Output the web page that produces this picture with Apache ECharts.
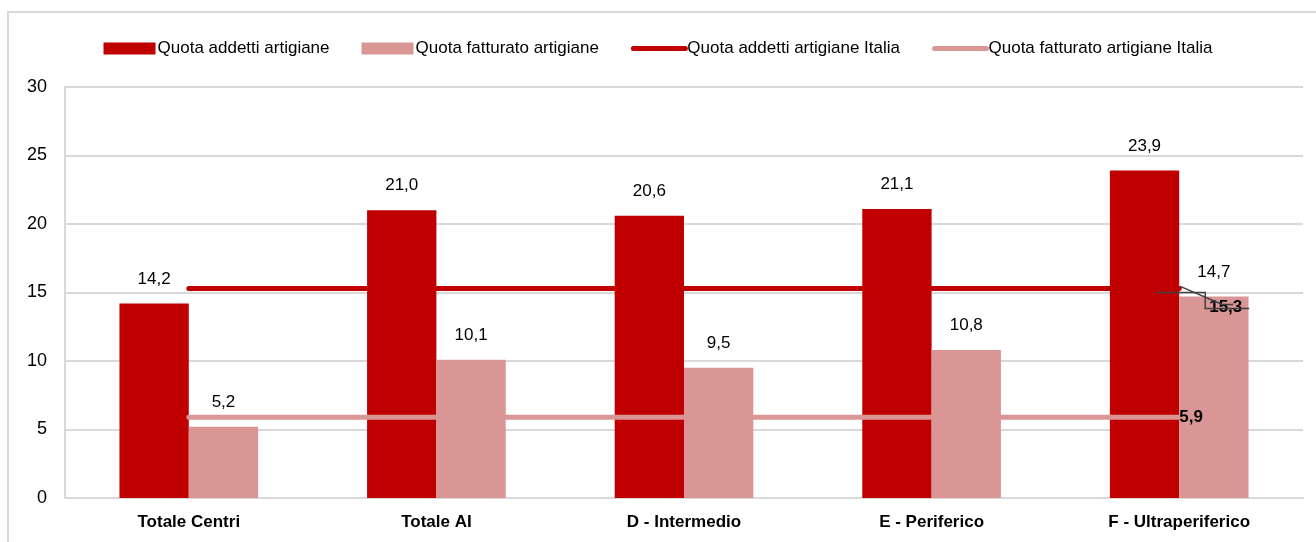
<!DOCTYPE html>
<html>
<head>
<meta charset="utf-8">
<script src="https://cdn.jsdelivr.net/npm/echarts@6/dist/echarts.min.js"></script>
<style>
  html, body { margin: 0; padding: 0; background: #fff; }
  #quote { width: 1316px; height: 542px; }
</style>
</head>
<body>
<div id="quote"></div>
<script>
  // categorie e valori
  let categorie = ["Totale Centri", "Totale AI", "D - Intermedio", "E - Periferico", "F - Ultraperiferico"];
  let addetti = [14.2, 21.0, 20.6, 21.1, 23.9];
  let fatturato = [5.2, 10.1, 9.5, 10.8, 14.7];
  let addettiItalia = [15.3, 15.3, 15.3, 15.3, 15.3];
  let fatturatoItalia = [5.9, 5.9, 5.9, 5.9, 5.9];
  let yTicks = [0, 5, 10, 15, 20, 25, 30];

  let font = "'Liberation Sans Narrow', 'Arial Narrow', 'Liberation Sans', Arial, sans-serif";
  let rosso = '#C00000';
  let rosa = '#DA9694';

  function virgola(v) {
    return v.toFixed(1).replace('.', ',');
  }

  let chart = echarts.init(document.getElementById('quote'));
  let lastIdx = categorie.length - 1;

  let barLabel = {
    show: true, position: 'top', distance: 16,
    fontFamily: font, fontSize: 17, color: '#000',
    formatter: p => virgola(p.value)
  };

  chart.setOption({
    animation: false,
    textStyle: { fontFamily: font, color: '#000' },
    legend: {
      top: 35,
      left: 'center',
      itemWidth: 52,
      itemHeight: 12,
      itemGap: 32,
      textStyle: { fontFamily: font, fontSize: 17, color: '#000', padding: [0, 0, 0, -3] },
      data: [
        { name: 'Quota addetti artigiane', icon: 'rect' },
        { name: 'Quota fatturato artigiane', icon: 'rect' },
        { name: 'Quota addetti artigiane Italia', itemStyle: { opacity: 0 }, lineStyle: { width: 5, cap: 'round' } },
        { name: 'Quota fatturato artigiane Italia', itemStyle: { opacity: 0 }, lineStyle: { width: 5, cap: 'round' } }
      ]
    },
    grid: { left: 65, right: 13, top: 87, bottom: 44 },
    xAxis: {
      type: 'category',
      data: categorie,
      axisTick: { show: false },
      axisLine: { lineStyle: { color: '#d9d9d9', width: 2 } },
      axisLabel: { fontFamily: font, fontSize: 17, fontWeight: 'bold', color: '#000', margin: 16 }
    },
    yAxis: {
      type: 'value',
      min: yTicks[0],
      max: yTicks[yTicks.length - 1],
      interval: 5,
      axisLine: { show: true, lineStyle: { color: '#d9d9d9', width: 2 } },
      axisTick: { show: false },
      splitLine: { lineStyle: { color: '#d9d9d9', width: 2 } },
      axisLabel: { fontFamily: font, fontSize: 18, color: '#000', margin: 18 }
    },
    series: [{
      name: 'Quota addetti artigiane',
      type: 'bar',
      data: addetti,
      barWidth: '28%',
      barGap: '0%',
      itemStyle: { color: rosso },
      label: barLabel
    }, {
      name: 'Quota fatturato artigiane',
      type: 'bar',
      data: fatturato,
      barWidth: '28%',
      itemStyle: { color: rosa },
      label: barLabel
    }, {
      name: 'Quota addetti artigiane Italia',
      type: 'line',
      data: addettiItalia,
      symbol: 'none',
      lineStyle: { color: rosso, width: 5, cap: 'round' },
      itemStyle: { color: rosso },
      endLabel: {
        show: true, distance: 0, offset: [30, 19],
        fontFamily: font, fontSize: 17, fontWeight: 'bold', color: '#000',
        formatter: p => virgola(p.value)
      }
    }, {
      name: 'Quota fatturato artigiane Italia',
      type: 'line',
      data: fatturatoItalia,
      symbol: 'none',
      lineStyle: { color: rosa, width: 5, cap: 'round' },
      itemStyle: { color: rosa },
      endLabel: {
        show: true, distance: 0,
        fontFamily: font, fontSize: 17, fontWeight: 'bold', color: '#000',
        formatter: p => virgola(p.value)
      }
    }]
  });

  // cornice e linee guida dell'etichetta 15,3 (posizioni ricavate dagli assi)
  let fine = chart.convertToPixel({ seriesIndex: 2 }, [lastIdx, addettiItalia[lastIdx]]);
  chart.setOption({
    graphic: [{
      type: 'rect',
      shape: { x: 8, y: 12, width: 1340, height: 560 },
      style: { fill: 'none', stroke: '#d9d9d9', lineWidth: 2 },
      silent: true
    }, {
      type: 'polyline',
      shape: { points: [[fine[0] + 1, fine[1] - 2], [fine[0] + 43, fine[1] + 16], [fine[0] + 54, fine[1] + 16]] },
      style: { fill: 'none', stroke: '#404040', lineWidth: 1.5 },
      z: 10, silent: true
    }, {
      type: 'polyline',
      shape: { points: [[fine[0] - 23, fine[1] + 4], [fine[0] + 26, fine[1] + 4], [fine[0] + 26, fine[1] + 20], [fine[0] + 70, fine[1] + 20]] },
      style: { fill: 'none', stroke: '#404040', lineWidth: 1.5 },
      z: 10, silent: true
    }]
  });
</script>
</body>
</html>
